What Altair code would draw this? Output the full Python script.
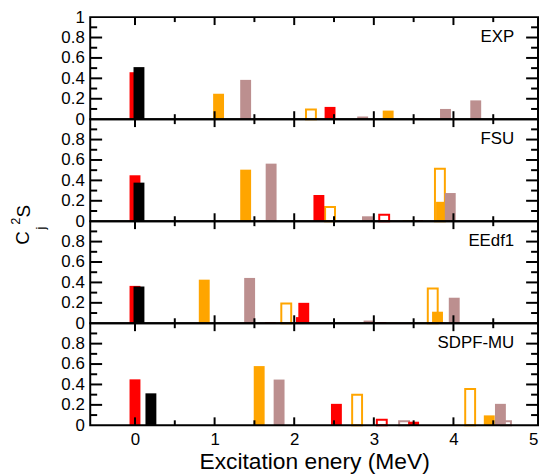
import altair as alt
import pandas as pd

# ---------------- data ----------------
# orbital categories: s (red), d (black), f (orange), p (rosy brown); "open" = hollow bar
EXP_E   = [0.00, 0.05, 1.05, 1.39, 1.57, 2.21, 2.45, 2.86, 3.18, 3.56, 3.90, 4.28]
EXP_S   = [0.46, 0.51, 0.25, 0.385, 0.005, 0.094, 0.12, 0.026, 0.084, 0.005, 0.10, 0.184]
EXP_ORB = ["s", "d", "f", "p", "s", "f", "s", "p", "f", "s", "p", "p"]
EXP_OPEN = [0, 0, 0, 0, 0, 1, 0, 0, 0, 0, 0, 0]

FSU_E   = [0.00, 0.05, 1.39, 1.59, 1.71, 2.31, 2.45, 2.60, 2.92, 3.13, 3.43, 3.55, 3.83, 3.85, 3.96]
FSU_S   = [0.45, 0.378, 0.505, 0.005, 0.564, 0.257, 0.138, 0.005, 0.048, 0.064, 0.01, 0.01, 0.513, 0.19, 0.276]
FSU_ORB = ["s", "d", "f", "s", "p", "s", "f", "p", "p", "s", "f", "s", "f", "f", "p"]
FSU_OPEN = [0, 0, 0, 0, 0, 0, 1, 0, 0, 1, 0, 0, 1, 0, 0]

EED_E   = [0.00, 0.05, 0.87, 1.44, 1.70, 1.90, 2.09, 2.12, 2.94, 3.09, 3.23, 3.49, 3.74, 3.80, 4.01]
EED_S   = [0.366, 0.36, 0.427, 0.444, 0.01, 0.194, 0.06, 0.20, 0.026, 0.012, 0.005, 0.005, 0.34, 0.113, 0.25]
EED_ORB = ["s", "d", "f", "p", "s", "f", "s", "s", "p", "s", "f", "p", "f", "f", "p"]
EED_OPEN = [0, 0, 0, 0, 0, 1, 0, 0, 0, 0, 0, 0, 1, 0, 0]

SDP_E   = [0.00, 0.20, 1.56, 1.81, 2.53, 2.79, 3.10, 3.38, 3.50, 4.02, 4.21, 4.45, 4.66, 4.59]
SDP_S   = [0.45, 0.313, 0.58, 0.448, 0.21, 0.30, 0.055, 0.04, 0.035, 0.005, 0.355, 0.097, 0.04, 0.21]
SDP_ORB = ["s", "d", "f", "p", "s", "f", "s", "p", "s", "f", "f", "f", "p", "p"]
SDP_OPEN = [0, 0, 0, 0, 0, 1, 1, 1, 0, 0, 1, 0, 1, 0]

PANELS = [
    ("EXP", EXP_E, EXP_S, EXP_ORB, EXP_OPEN),
    ("FSU", FSU_E, FSU_S, FSU_ORB, FSU_OPEN),
    ("EEdf1", EED_E, EED_S, EED_ORB, EED_OPEN),
    ("SDPF-MU", SDP_E, SDP_S, SDP_ORB, SDP_OPEN),
]

X_MAJOR = [0, 1, 2, 3, 4]
X_MINOR = [0.5, 1.5, 2.5, 3.5, 4.5]
X_LABELS = [0, 1, 2, 3, 4, 5]
Y_MAJOR = [0.2, 0.4, 0.6, 0.8]
Y_MINOR = [0.1, 0.3, 0.5, 0.7, 0.9]
Y_LABELS_TOP = [0, 0.2, 0.4, 0.6, 0.8, 1]
Y_LABELS = [0, 0.2, 0.4, 0.6, 0.8]

X_TITLE = "Excitation enery (MeV)"

# ---------------- styling ----------------
W, H = 452, 103
FONT = "Liberation Sans"
ORB_DOMAIN = ["s", "d", "f", "p"]
ORB_RANGE = ["#ff0000", "#000000", "#ffa500", "#bc8f8f"]
BAR_PX = 11

xscale = alt.Scale(domain=[-0.5, 5], nice=False, zero=False)
yscale = alt.Scale(domain=[0, 1], nice=False)
cscale = alt.Scale(domain=ORB_DOMAIN, range=ORB_RANGE)

xmaj = pd.DataFrame({"v": X_MAJOR})
xmin = pd.DataFrame({"v": X_MINOR})
ymaj = pd.DataFrame({"v": Y_MAJOR})
ymin = pd.DataFrame({"v": Y_MINOR})
one = pd.DataFrame({"k": [0]})


def tick_layers(xaxis, yaxis):
    layers = []
    for df, L in ((xmaj, 8), (xmin, 5)):
        layers.append(alt.Chart(df).mark_rule(color="black", strokeWidth=2).encode(
            x=alt.X("v:Q", scale=xscale, axis=xaxis), y=alt.value(H), y2=alt.value(H - L)))
        layers.append(alt.Chart(df).mark_rule(color="black", strokeWidth=2).encode(
            x=alt.X("v:Q", scale=xscale, axis=xaxis), y=alt.value(0), y2=alt.value(L)))
    for df, L in ((ymaj, 12), (ymin, 7)):
        layers.append(alt.Chart(df).mark_rule(color="black", strokeWidth=2).encode(
            y=alt.Y("v:Q", scale=yscale, axis=yaxis), x=alt.value(0), x2=alt.value(L)))
        layers.append(alt.Chart(df).mark_rule(color="black", strokeWidth=2).encode(
            y=alt.Y("v:Q", scale=yscale, axis=yaxis), x=alt.value(W), x2=alt.value(W - L)))
    frame = alt.Chart(one).mark_rect(filled=False, stroke="black", strokeWidth=2).encode(
        x=alt.value(0), x2=alt.value(W), y=alt.value(0), y2=alt.value(H))
    layers.append(frame)
    return layers


panels = []
for i, (name, E, S, ORB, OPEN) in enumerate(PANELS):
    df = pd.DataFrame({"E": E, "S": S, "orb": ORB, "open": OPEN})
    df["i"] = range(len(df))
    bottom = i == len(PANELS) - 1
    top = i == 0

    if bottom:
        xaxis = alt.Axis(values=X_LABELS, format="d", ticks=False, domain=False, grid=False,
                         labelFontSize=17, labelPadding=6, labelFont=FONT, labelColor="black",
                         labelOverlap=False, labelBaseline="top", labelFlush=False,
                         title=X_TITLE, titleFontSize=23, titleFont=FONT, titleFontWeight="normal",
                         titleColor="black", titlePadding=4)
    else:
        xaxis = None
    yaxis = alt.Axis(values=Y_LABELS_TOP if top else Y_LABELS, format="~g", ticks=False,
                     domain=False, grid=False, labelFontSize=17, labelPadding=6,
                     labelOverlap=False, labelFlush=False,
                     labelFont=FONT, labelColor="black", title=None)

    base = alt.Chart(df)
    hollow = base.transform_filter("datum.open == 1").mark_bar(
        filled=False, strokeWidth=2, size=BAR_PX - 1).encode(
        x=alt.X("E:Q", scale=xscale, axis=xaxis),
        y=alt.Y("S:Q", scale=yscale, axis=yaxis),
        stroke=alt.Stroke("orb:N", scale=cscale, legend=None),
        order=alt.Order("i:Q"))
    solid = base.transform_filter("datum.open == 0").mark_bar(size=BAR_PX).encode(
        x=alt.X("E:Q", scale=xscale, axis=xaxis),
        y=alt.Y("S:Q", scale=yscale, axis=yaxis),
        color=alt.Color("orb:N", scale=cscale, legend=None),
        order=alt.Order("i:Q"))
    label = alt.Chart(pd.DataFrame({"t": [name]})).mark_text(
        align="right", baseline="middle", fontSize=17, font=FONT, color="black").encode(
        text="t:N", x=alt.value(W - 24), y=alt.value(20))

    layers = [hollow, solid] + tick_layers(xaxis, yaxis) + [label]

    if top:
        # y-axis title C_j^2 S (rotated)
        parts = [("C", 19, -68, 223), ("S", 19, -67, 196), ("2", 13, -75, 206), ("j", 13, -50, 213)]
        for txt, fs, px, py in parts:
            layers.append(alt.Chart(pd.DataFrame({"t": [txt]})).mark_text(
                align="center", baseline="middle", angle=270, fontSize=fs, font=FONT,
                color="black").encode(text="t:N", x=alt.value(px), y=alt.value(py)))

    panel = alt.layer(*layers).properties(width=W, height=H)
    panels.append(panel)

chart = alt.vconcat(*panels, spacing=0, bounds="flush").configure(
    padding={"left": 2, "top": -2, "right": 0, "bottom": 0}, background="white"
).configure_view(stroke=None)

chart.save("out.html", embed_options={"renderer": "svg", "actions": False})
